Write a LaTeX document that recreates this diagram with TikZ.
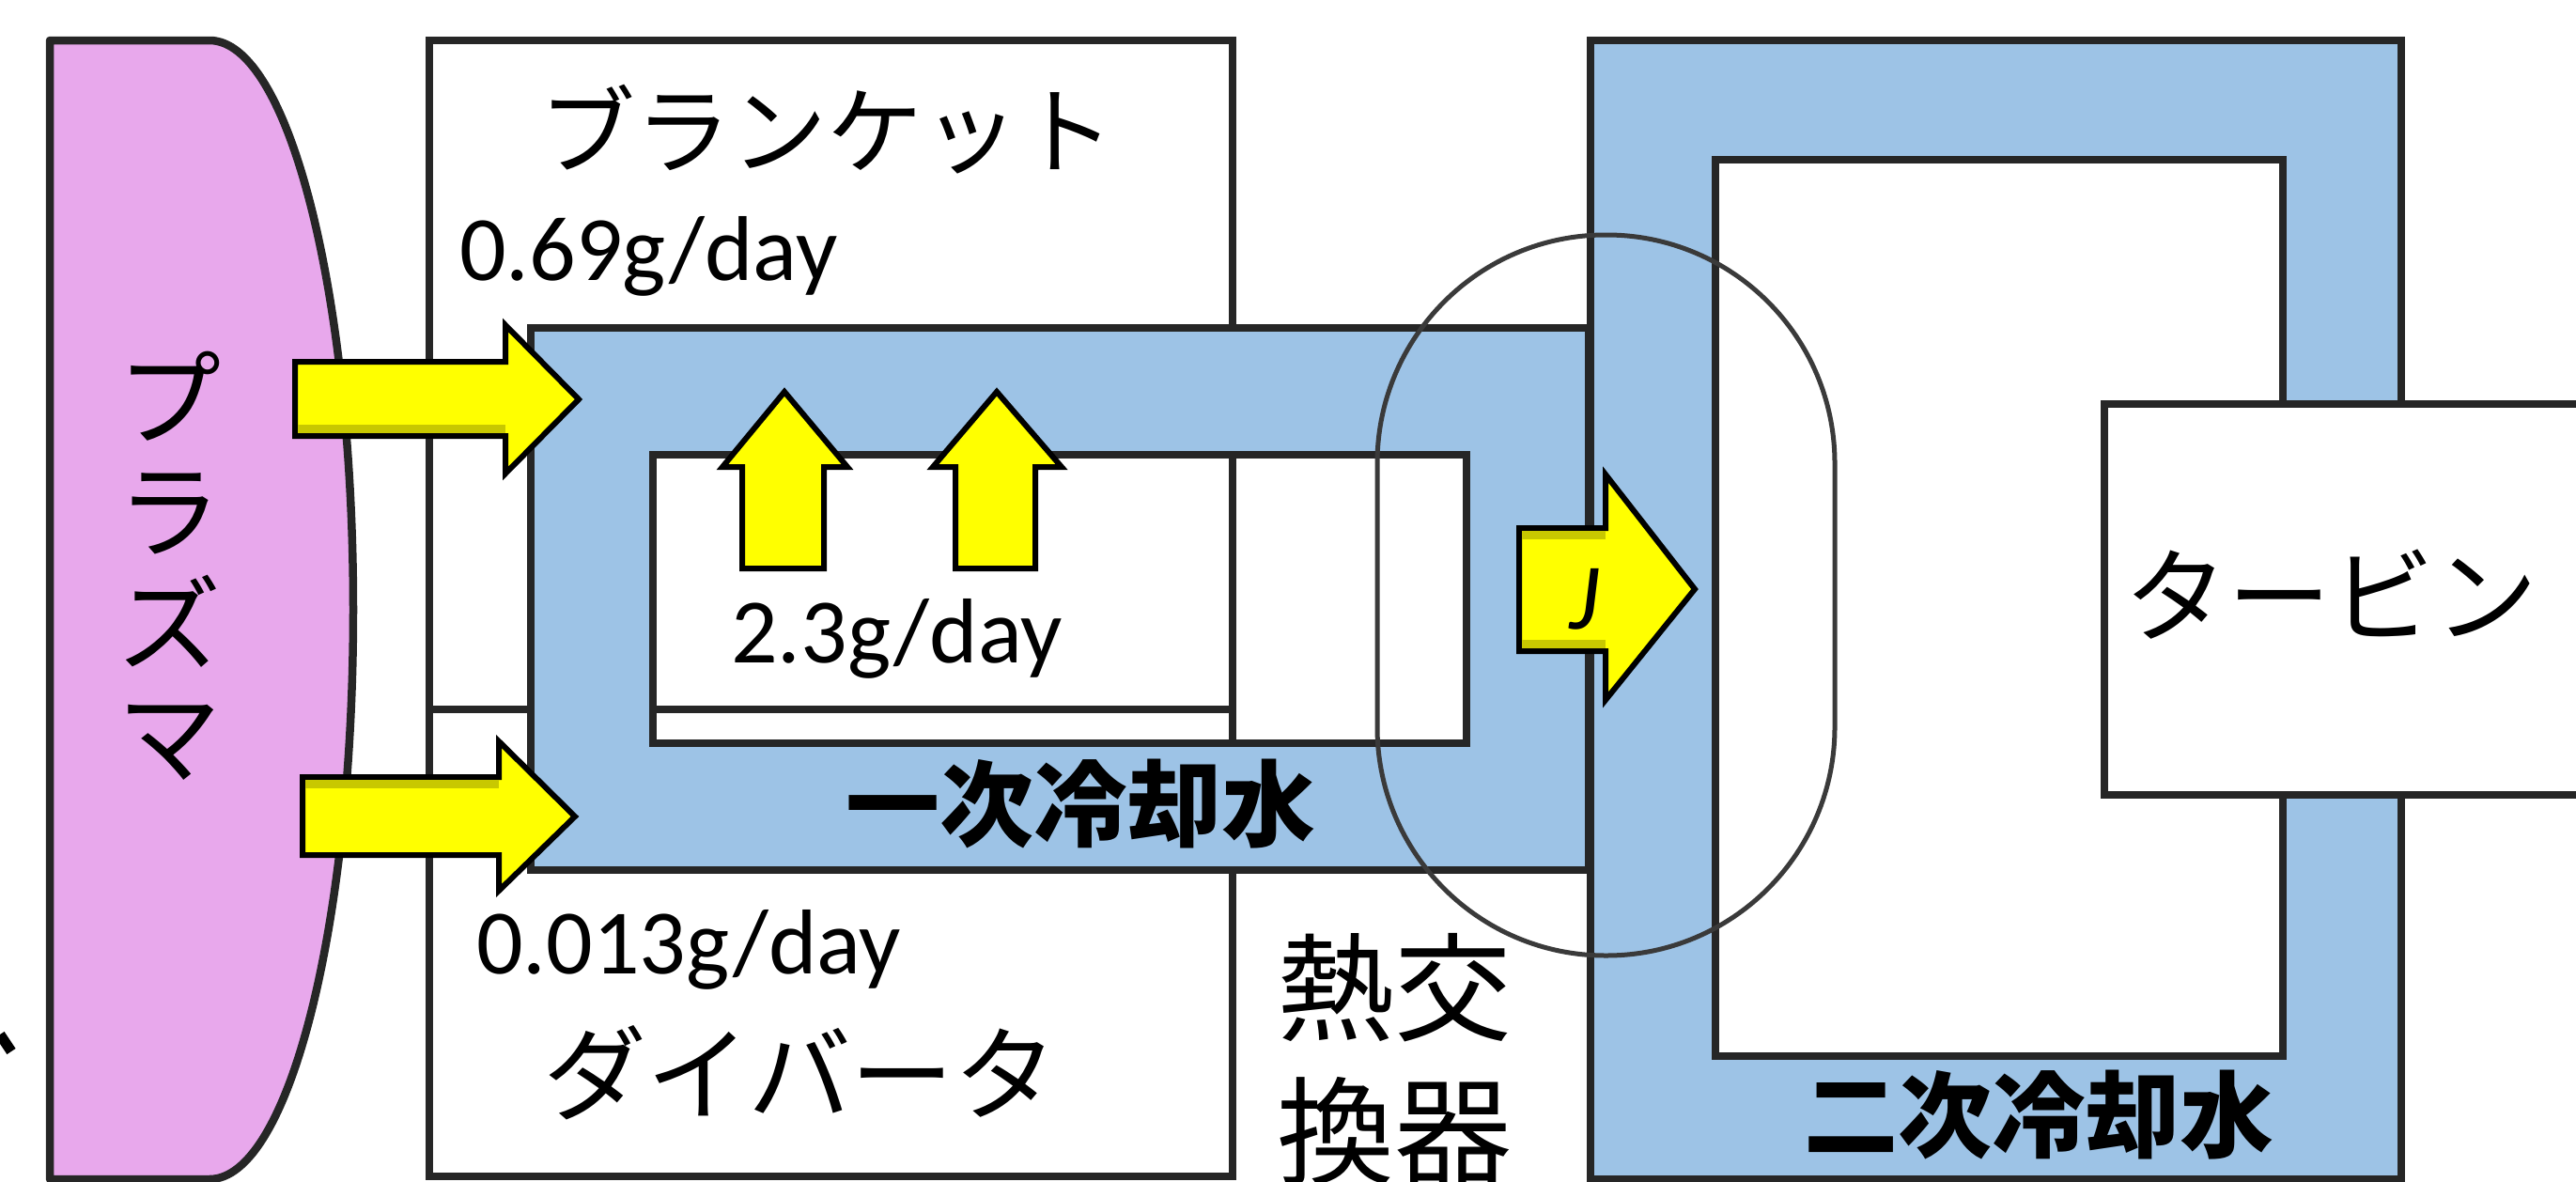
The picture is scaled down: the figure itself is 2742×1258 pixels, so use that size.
\documentclass[tikz,border=0pt]{standalone}
\usepackage{fontspec}
\newfontfamily\jp{Noto Sans CJK JP}
\newfontfamily\carl{Carlito}
\definecolor{plasmafill}{HTML}{E8A8EC}
\definecolor{cool}{HTML}{9DC3E6}
\definecolor{yel}{HTML}{FFFF00}
\definecolor{bevel}{HTML}{C8C800}
\definecolor{edge}{HTML}{262626}
\definecolor{hxline}{HTML}{3A3A3A}
\begin{document}
\begin{tikzpicture}[x=1pt,y=-1pt,
  box/.style={draw=edge, line width=8.5pt, fill=white},
  coolframe/.style={draw=edge, line width=8.5pt, fill=cool, even odd rule},
  yarrow/.style={draw=black, line width=6pt, fill=yel, line join=miter},
  jplabel/.style={font=\jp\fontsize{110}{120}\selectfont, inner sep=0pt},
  jpbold/.style={font=\jp\bfseries\fontsize{100}{110}\selectfont, inner sep=0pt},
  rate/.style={font=\carl\fontsize{98}{110}\selectfont, inner sep=0pt},
]
\useasboundingbox (0,0) rectangle (2742,1258);
\clip (0,0) rectangle (2742,1258);

% blanket and divertor
\draw[box] (457,43) rectangle (1312,755);
\draw[box] (457,755) rectangle (1312,1252);

% plasma
\draw[draw=edge, line width=8.5pt, fill=plasmafill, line join=round]
  (53,43) -- (223,43) .. controls (307.5,43) and (376,314) .. (376,649)
  .. controls (376,984) and (307.5,1255) .. (223,1255) -- (53,1255) -- cycle;

% primary coolant frame
\draw[coolframe] (565,349) rectangle (1691,926) (695,484) rectangle (1561,791);

% secondary coolant frame
\draw[coolframe] (1693,43) rectangle (2556,1255) (1826,170) rectangle (2430,1124);

% turbine box
\draw[box] (2240,430) rectangle (2800,846);

% arrows into blanket / divertor
\draw[yarrow] (314,385) -- (538,385) -- (538,346) -- (616,425) -- (538,504) -- (538,464) -- (314,464) -- cycle;
\fill[bevel] (317,452) rectangle (538,461);
\draw[yarrow] (322,827) -- (531,827) -- (531,789) -- (612,869) -- (531,948) -- (531,910) -- (322,910) -- cycle;
\fill[bevel] (325,830) rectangle (531,839);

% up arrows
\draw[yarrow] (790,605) -- (790,497) -- (769,497) -- (835,417) -- (902,497) -- (877,497) -- (877,605) -- cycle;
\draw[yarrow] (1017,605) -- (1017,497) -- (993,497) -- (1061,417) -- (1130,497) -- (1102,497) -- (1102,605) -- cycle;

% arrow through heat exchanger
\draw[yarrow] (1617,562) -- (1709,562) -- (1709,505) -- (1804,627) -- (1709,745) -- (1709,693) -- (1617,693) -- cycle;
\fill[bevel] (1620,565) rectangle (1709,574);
\fill[bevel] (1620,681) rectangle (1709,690);

% heat exchanger outline
\draw[draw=hxline, line width=5pt, rounded corners=243pt] (1466,250) rectangle (1953,1017);

% small fragment at left edge
\draw[line width=11pt] (0,1101) -- (12,1119);

% labels
\node[jplabel, align=center, font=\jp\fontsize{110}{120}\selectfont] (plasma) at (180,602) {プ\\ラ\\ズ\\マ};
\node[jplabel, font=\jp\fontsize{102}{110}\selectfont] (blanket) at (880,138) {ブランケット};
\node[jplabel] (divertor) at (852,1142) {ダイバータ};
\node[jplabel] (turbine) at (2481,633) {タービン};
\node[jplabel, align=center, font=\jp\fontsize{125}{153}\selectfont] (hx) at (1484,1128) {熱交\\換器};
\node[jpbold] (primary) at (1150,856) {一次冷却水};
\node[jpbold] (secondary) at (2170,1187) {二次冷却水};
\node[rate, anchor=base west] (r1) at (489,298) {0.69g/day};
\node[rate, anchor=base west] (r2) at (778,705) {2.3g/day};
\node[rate, anchor=base west] (r3) at (507,1036) {0.013g/day};
\node[inner sep=0pt, font=\carl\itshape\fontsize{100}{100}\selectfont] (jmark) at (1686,638) {J};
\end{tikzpicture}
\end{document}
